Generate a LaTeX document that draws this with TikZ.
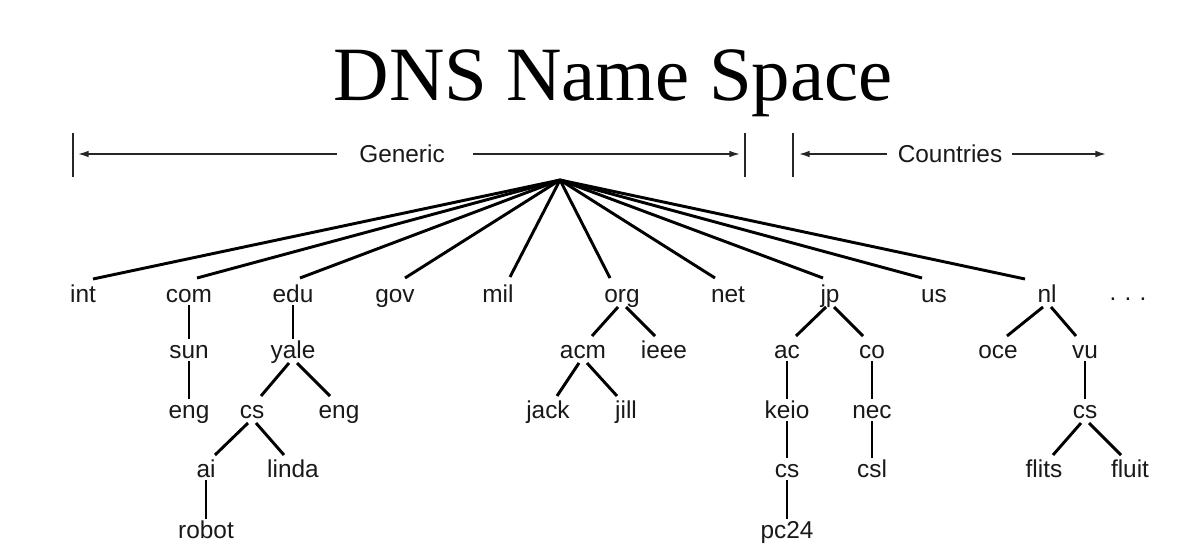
\documentclass[tikz,border=0pt]{standalone}
\usepackage{fontspec}
\setmainfont{Liberation Sans}
\newfontfamily\titlefont{Liberation Serif}
\usetikzlibrary{calc,arrows.meta}
\newcommand\vlink[2]{\draw[edge] ($(#1.base)+(0,3)$) -- ($(#2.base)+(0,-19)$);}
\newcommand\dlink[3]{\draw[edge] ($(#1.base)+(#3*4,5)$) -- ($(#2.base)+(-#3*9,-22)$);}
\newcommand\rlink[3]{\draw[edge] (root) -- ($(#1.base)+(#2,#3)$);}
\begin{document}
\begin{tikzpicture}[x=0.75pt,y=-0.75pt,
  lab/.style={anchor=base, inner sep=0pt, text=black!90, font=\fontsize{18.3}{20}\selectfont},
  edge/.style={line width=2.2pt, line cap=butt},
  hdr/.style={line width=1.1pt, black!85},
  arr/.style={hdr, -{Latex[length=8pt,width=5pt]}}]
\useasboundingbox[fill=white] (0,0) rectangle (1202,556);

% title
\node[anchor=base, inner sep=0pt, font=\titlefont\fontsize{57.6}{60}\selectfont] (title) at (613,101) {DNS Name Space};

% header
\coordinate (b1t) at (73,133);  \coordinate (b1b) at (73,177);
\coordinate (b2t) at (745,133); \coordinate (b2b) at (745,177);
\coordinate (b3t) at (793,133); \coordinate (b3b) at (793,177);
\draw[hdr] (b1t) -- (b1b);
\draw[hdr] (b2t) -- (b2b);
\draw[hdr] (b3t) -- (b3b);
\node[lab] (gen) at (402,163) {Generic};
\node[lab] (cty) at (950,163) {Countries};
\coordinate (gl1) at (337,154); \coordinate (gl2) at (78,154);
\coordinate (gr1) at (473,154); \coordinate (gr2) at (740,154);
\coordinate (cl1) at (887,154); \coordinate (cl2) at (799,154);
\coordinate (cr1) at (1012,154); \coordinate (cr2) at (1106,154);
\draw[arr] (gl1) -- (gl2);
\draw[arr] (gr1) -- (gr2);
\draw[arr] (cl1) -- (cl2);
\draw[arr] (cr1) -- (cr2);

% tree nodes
\coordinate (root) at (560,180);
\node[lab] (int) at (83,302) {int};
\node[lab] (com) at (189,302) {com};
\node[lab] (edu) at (293,302) {edu};
\node[lab] (gov) at (395,302) {gov};
\node[lab] (mil) at (498,302) {mil};
\node[lab] (org) at (622,302) {org};
\node[lab] (net) at (728,302) {net};
\node[lab] (jp)  at (830,302) {jp};
\node[lab] (us)  at (934,302) {us};
\node[lab] (nl)  at (1047,302) {nl};
\node[lab] (dots) at (1128,300) {.\,\,.\,\,.};

\node[lab] (sun)  at (189,358) {sun};
\node[lab] (yale) at (293,358) {yale};
\node[lab] (acm)  at (583,358) {acm};
\node[lab] (ieee) at (664,358) {ieee};
\node[lab] (ac)   at (787,358) {ac};
\node[lab] (co)   at (872,358) {co};
\node[lab] (oce)  at (998,358) {oce};
\node[lab] (vu)   at (1085,358) {vu};

\node[lab] (engA) at (189,418) {eng};
\node[lab] (csA)  at (252,418) {cs};
\node[lab] (engB) at (339,418) {eng};
\node[lab] (jack) at (548,418) {jack};
\node[lab] (jill) at (626,418) {jill};
\node[lab] (keio) at (787,418) {keio};
\node[lab] (nec)  at (872,418) {nec};
\node[lab] (csC)  at (1085,418) {cs};

\node[lab] (ai)    at (206,477) {ai};
\node[lab] (linda) at (293,477) {linda};
\node[lab] (csB)   at (787,477) {cs};
\node[lab] (csl)   at (872,477) {csl};
\node[lab] (flits) at (1044,477) {flits};
\node[lab] (fluit) at (1130,477) {fluit};

\node[lab] (robot) at (206,538) {robot};
\node[lab] (pc)    at (787,538) {pc24};

% root links
\rlink{int}{10}{-23}
\rlink{com}{8}{-24}
\rlink{edu}{7}{-24}
\rlink{gov}{10}{-24}
\rlink{mil}{12}{-25}
\rlink{org}{-12}{-24}
\rlink{net}{-13}{-24}
\rlink{jp}{-7}{-24}
\rlink{us}{-12}{-24}
\rlink{nl}{-22}{-23}

% vertical links
\vlink{com}{sun}
\vlink{sun}{engA}
\vlink{edu}{yale}
\vlink{ai}{robot}
\vlink{ac}{keio}
\vlink{keio}{csB}
\vlink{csB}{pc}
\vlink{co}{nec}
\vlink{nec}{csl}
\vlink{vu}{csC}

% diagonal links
\dlink{yale}{csA}{-1}
\dlink{yale}{engB}{1}
\dlink{csA}{ai}{-1}
\dlink{csA}{linda}{1}
\dlink{org}{acm}{-1}
\dlink{org}{ieee}{1}
\dlink{acm}{jack}{-1}
\dlink{acm}{jill}{1}
\dlink{jp}{ac}{-1}
\dlink{jp}{co}{1}
\dlink{nl}{oce}{-1}
\dlink{nl}{vu}{1}
\dlink{csC}{flits}{-1}
\dlink{csC}{fluit}{1}
\end{tikzpicture}
\end{document}
